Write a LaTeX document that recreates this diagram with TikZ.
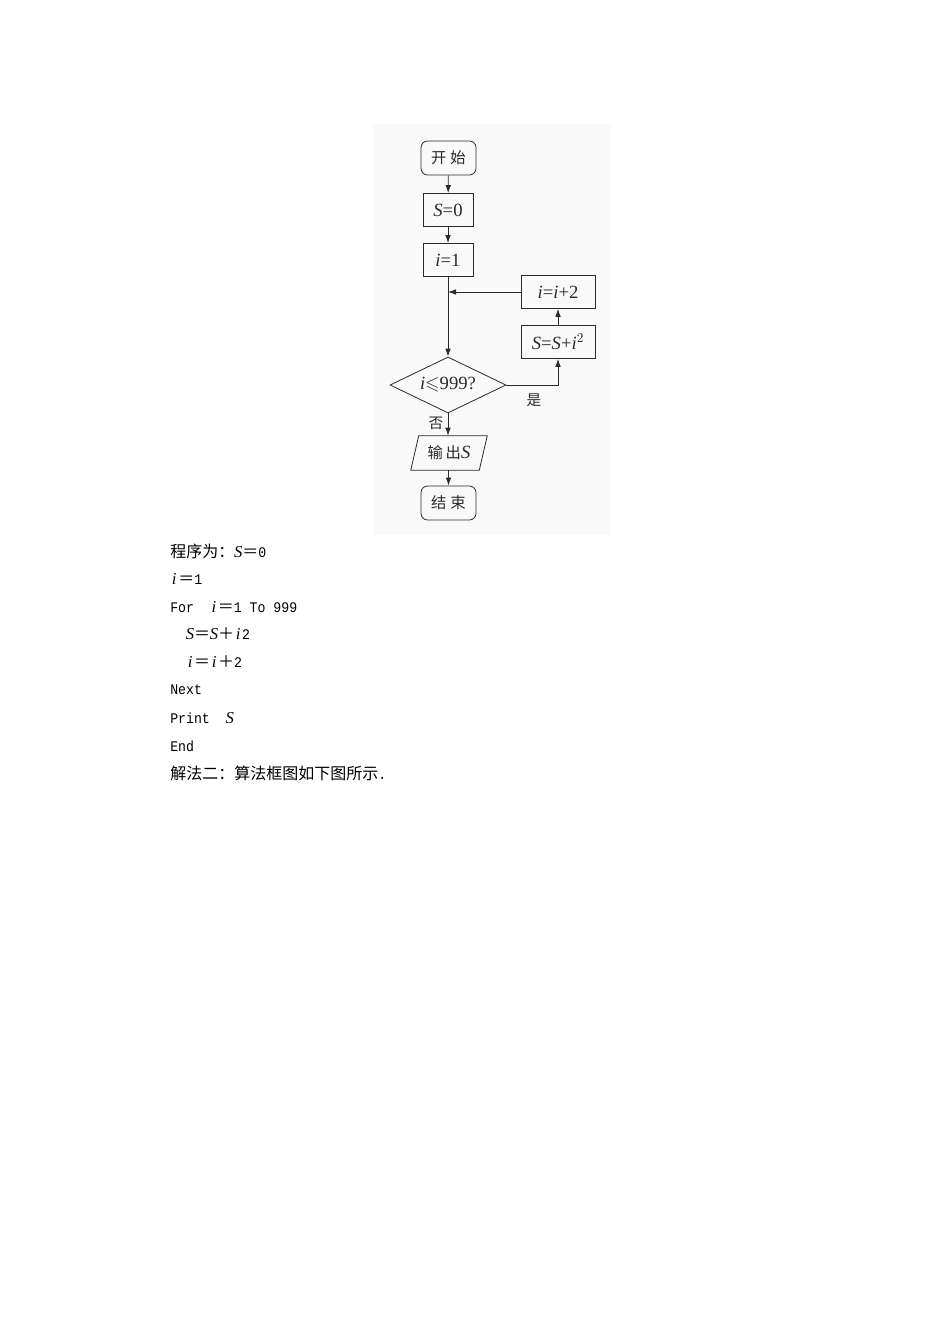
\documentclass[tikz,border=0pt]{standalone}
\usepackage{amssymb}
\usepackage{fontspec}
\setmainfont{Liberation Serif}
\newfontfamily\cjk{Noto Sans CJK SC}
\newfontfamily\mono[FakeStretch=0.9]{Liberation Mono}
\usetikzlibrary{shapes.geometric,arrows.meta,calc}
\definecolor{bgpic}{HTML}{F9F9F9}
\definecolor{ink}{HTML}{2A2A2A}
\newcommand{\ci}[1]{\makebox[6pt][c]{\rmfamily\fontsize{12.5pt}{12pt}\selectfont\itshape #1}}
\newcommand{\fw}[1]{{\cjk\fontsize{12pt}{12pt}\selectfont #1}}
\begin{document}
\begin{tikzpicture}[x=0.75pt,y=-0.75pt,
  box/.style={draw=ink,line width=0.6pt,minimum width=37.5pt,minimum height=24.75pt,inner sep=0pt,font=\fontsize{14pt}{14pt}\selectfont,text=ink},
  term/.style={box,rounded corners=5pt,minimum width=41.25pt,minimum height=25.5pt},
  wbox/.style={box,minimum width=55.5pt,minimum height=24.75pt},
  dec/.style={draw=ink,line width=0.6pt,diamond,aspect=2.07,minimum width=87pt,minimum height=42pt,inner sep=0pt,font=\fontsize{14pt}{14pt}\selectfont,text=ink},
  io/.style={minimum width=57pt,minimum height=25.5pt,inner sep=0pt,font=\fontsize{14pt}{14pt}\selectfont,text=ink},
  arr/.style={draw=ink,line width=0.6pt,-{Latex[length=6pt,width=4.2pt]}},
  ln/.style={draw=ink,line width=0.6pt},
  cn/.style={font=\cjk\fontsize{11pt}{11pt}\selectfont,text=ink},
  txt/.style={anchor=west,inner sep=0pt,font=\mono\fontsize{11pt}{12pt}\selectfont}]
\useasboundingbox (0,0) rectangle (950,1344);
\fill[bgpic] (373,124) rectangle (611,535);
% nodes
\node[term] (start) at (448.5,158) {\cjk\fontsize{11.5pt}{11pt}\selectfont 开\hspace{3pt}始};
\node[box] (s0) at (448,210) {\textit{S}=0};
\node[box] (i1) at (448,260) {\textit{i}=1};
\node[wbox] (inc) at (558,292) {\textit{i}=\textit{i}+2};
\node[wbox] (acc) at (558,342) {\textit{S}=\textit{S}+\textit{i}$^{\scriptstyle 2}$};
\node[dec] (cond) at (448,385) {\textit{i}$\leqslant$999?};
\node[io] (out) at (449,453) {{\cjk\fontsize{11.5pt}{11pt}\selectfont 输\hspace{2pt}出}\textit{S}};
\draw[ln] (out.south west) -- ($(out.north west)+(8,0)$) -- (out.north east) -- ($(out.south east)+(-8,0)$) -- cycle;
\node[term] (stop) at (448.5,503) {\cjk\fontsize{11.5pt}{11pt}\selectfont 结\hspace{3pt}束};
\coordinate (join) at (448,292);
\coordinate (rc) at (558,385);
% connectors
\draw[arr] (start) -- (s0);
\draw[arr] (s0) -- (i1);
\draw[arr] (i1) -- (cond);
\draw[arr] (inc) -- (join);
\draw[arr] (cond.east) -- (rc) -- (acc);
\draw[arr] (acc) -- (inc);
\draw[arr] (cond.south) -- (cond.south |- out.north);
\draw[arr] (out.south -| stop.north) -- (stop);
\node[cn] (no) at (436,423) {否};
\node[cn] (yes) at (534,400) {是};
% text block
\node[txt] (l1) at (170,551) {\fw{程序为：}\ci{S}\fw{＝}0};
\node[txt] (l2) at (170,579) {\ci{i}\fw{＝}1};
\node[txt] (l3) at (170,607) {For\ \ \ci{i}\fw{＝}1 To 999};
\node[txt] (l4) at (170,634) {\ \ \ci{S}\fw{＝}\ci{S}\fw{＋}\ci{i}2};
\node[txt] (l5) at (170,662) {\ \ \ci{i}\fw{＝}\ci{i}\fw{＋}2};
\node[txt] (l6) at (170,690) {Next};
\node[txt] (l7) at (170,718) {Print\ \ \ci{S}};
\node[txt] (l8) at (170,746) {End};
\node[txt] (l9) at (170,773) {\fw{解法二：算法框图如下图所示}.};
\end{tikzpicture}
\end{document}
